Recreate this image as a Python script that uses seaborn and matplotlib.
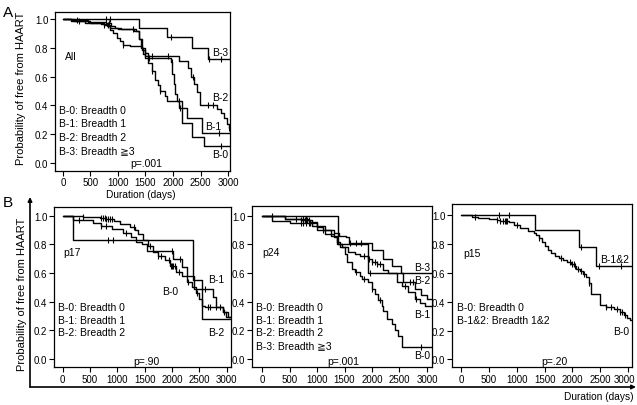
import numpy as np
import pandas as pd
import matplotlib
matplotlib.use("Agg")
import matplotlib.pyplot as plt
import matplotlib.transforms as mtransforms
import seaborn as sns
from matplotlib.patches import FancyArrowPatch

# ---------------- data ----------------
x_ticks = [0, 500, 1000, 1500, 2000, 2500, 3000]
y_ticks = [0.0, 0.2, 0.4, 0.6, 0.8, 1.0]
follow_up_end = 3120

# Panel A (All)
A_B0_t = [0, 150, 400, 700, 794, 855, 915, 976, 1036, 1097, 1218, 1430, 1491, 1552, 1612, 1673, 1733, 1764, 1855, 1885, 2170, 2350, 2560]
A_B0_s = [1.0, 0.985, 0.975, 0.965, 0.96, 0.926, 0.90, 0.868, 0.845, 0.82, 0.81, 0.787, 0.764, 0.694, 0.637, 0.579, 0.544, 0.498, 0.463, 0.428, 0.28, 0.18, 0.12]
A_B0_c = [300, 820, 1100, 1620, 1764, 2100, 2880]
A_B1_t = [0, 200, 500, 750, 800, 850, 1000, 1300, 1380, 1420, 1460, 1500, 1960, 1990, 2010, 2040, 2070, 2100, 2260, 2530]
A_B1_s = [1.0, 0.985, 0.975, 0.96, 0.95, 0.935, 0.93, 0.92, 0.86, 0.80, 0.76, 0.73, 0.70, 0.62, 0.55, 0.48, 0.43, 0.38, 0.31, 0.21]
A_B1_c = [750, 1280, 1560, 1980, 2130, 2840]
A_B2_t = [0, 150, 450, 780, 880, 950, 1050, 1330, 1390, 1440, 1490, 2110, 2280, 2330, 2380, 2430, 2490, 2800, 2880, 2930, 2980, 3010]
A_B2_s = [1.0, 0.99, 0.98, 0.97, 0.955, 0.94, 0.93, 0.92, 0.86, 0.80, 0.745, 0.71, 0.66, 0.60, 0.55, 0.49, 0.40, 0.375, 0.345, 0.31, 0.27, 0.245]
A_B2_c = [250, 830, 1620, 1900, 2370, 2640, 2720, 3010]
A_B3_t = [0, 1380, 1890, 2340, 2640]
A_B3_s = [1.0, 0.94, 0.875, 0.80, 0.722]
A_B3_c = [780, 850, 1960, 2650, 2870]

# Panel B, p17
P17_B0_t = [0, 380, 680, 800, 930, 1050, 1230, 1320, 1380, 1470, 1560, 1650, 1750, 1870, 1960, 2080, 2180, 2270, 2360, 2430, 2490, 2540, 2600, 2940, 3030]
P17_B0_s = [1.0, 0.99, 0.985, 0.975, 0.96, 0.94, 0.92, 0.90, 0.87, 0.83, 0.79, 0.75, 0.72, 0.69, 0.65, 0.61, 0.58, 0.54, 0.50, 0.46, 0.42, 0.37, 0.36, 0.33, 0.29]
P17_B0_c = [380, 700, 740, 780, 800, 830, 860, 900, 1300, 1600, 1750, 1800, 1950, 1980, 2000, 2020, 2050, 2130, 2300, 2450, 2650, 2700, 2800, 2880, 2950]
P17_B1_t = [0, 190, 560, 700, 900, 1100, 1250, 1350, 1450, 1550, 2010, 2180, 2280, 2400, 2750, 2800, 2940, 2980]
P17_B1_s = [1.0, 0.97, 0.95, 0.93, 0.91, 0.88, 0.85, 0.82, 0.80, 0.756, 0.70, 0.64, 0.58, 0.49, 0.43, 0.36, 0.33, 0.29]
P17_B1_c = [300, 700, 800, 1150, 2000, 2140, 2600]
P17_B2_t = [0, 180, 2378, 2541]
P17_B2_s = [1.0, 0.833, 0.553, 0.279]
P17_B2_c = [830, 920]

# Panel B, p24
P24_B0_t = [0, 420, 700, 900, 1000, 1100, 1250, 1358, 1420, 1509, 1540, 1630, 1691, 1782, 1812, 1933, 1994, 2054, 2115, 2176, 2206, 2267, 2358, 2418, 2480, 2540]
P24_B0_s = [1.0, 0.98, 0.97, 0.95, 0.92, 0.90, 0.86, 0.82, 0.78, 0.73, 0.68, 0.63, 0.604, 0.58, 0.559, 0.535, 0.49, 0.454, 0.41, 0.37, 0.337, 0.279, 0.245, 0.20, 0.163, 0.085]
P24_B0_c = [180, 620, 700, 750, 780, 800, 820, 850, 900, 1100, 1700, 1850, 2000, 2150, 2900]
P24_B1_t = [0, 180, 500, 900, 1000, 1150, 1300, 1360, 1450, 1570, 1690, 1780, 1933, 2000, 2100, 2206, 2300, 2449, 2550, 2661, 2782, 2870, 2964]
P24_B1_s = [1.0, 0.966, 0.95, 0.93, 0.90, 0.87, 0.85, 0.80, 0.78, 0.75, 0.73, 0.72, 0.70, 0.68, 0.66, 0.62, 0.60, 0.54, 0.51, 0.47, 0.42, 0.39, 0.37]
P24_B1_c = [700, 750, 800, 850, 880, 1850, 1950, 2000, 2050, 2100, 2150, 2600, 2800]
P24_B2_t = [0, 420, 850, 1000, 1150, 1300, 1400, 1520, 1580, 2000, 2200, 2360, 2530, 2560, 2780, 2900, 3000]
P24_B2_s = [1.0, 0.975, 0.955, 0.93, 0.90, 0.88, 0.86, 0.85, 0.81, 0.76, 0.70, 0.65, 0.60, 0.54, 0.49, 0.45, 0.42]
P24_B2_c = [750, 800, 1600, 1700, 1800, 2700, 2750]
P24_B3_t = [0, 1376, 1933]
P24_B3_s = [1.0, 0.8, 0.6]
P24_B3_c = [1960]

# Panel B, p15
P15_B0_t = [0, 200, 300, 500, 650, 700, 850, 950, 1050, 1200, 1300, 1350, 1400, 1450, 1500, 1560, 1620, 1680, 1750, 1830, 1900, 1980, 2030, 2070, 2130, 2190, 2240, 2290, 2335, 2495, 2600, 2750, 2850, 2930, 2990, 3030]
P15_B0_s = [1.0, 0.99, 0.98, 0.975, 0.97, 0.96, 0.95, 0.935, 0.91, 0.89, 0.88, 0.86, 0.84, 0.815, 0.79, 0.76, 0.735, 0.72, 0.70, 0.69, 0.675, 0.66, 0.645, 0.63, 0.61, 0.59, 0.57, 0.53, 0.455, 0.38, 0.365, 0.35, 0.33, 0.31, 0.29, 0.27]
P15_B0_c = [250, 650, 700, 750, 780, 800, 820, 1000, 1400, 1800, 1950, 2000, 2020, 2050, 2100, 2150, 2200, 2300, 2600, 2700, 2800, 2850, 2900, 2950]
P15_B12_t = [0, 1332, 2113, 2431]
P15_B12_s = [1.0, 0.896, 0.78, 0.648]
P15_B12_c = [680, 850, 2150, 2480, 2880]

legend_A = ["B-0: Breadth 0", "B-1: Breadth 1", "B-2: Breadth 2", "B-3: Breadth \u22673"]
legend_p17 = ["B-0: Breadth 0", "B-1: Breadth 1", "B-2: Breadth 2"]
legend_p24 = legend_A
legend_p15 = ["B-0: Breadth 0", "B-1&2: Breadth 1&2"]

# ---------------- style ----------------
sns.set_style("ticks")
plt.rcParams["font.family"] = ["Liberation Sans", "DejaVu Sans"]
plt.rcParams["font.size"] = 7.5
W, H = 637, 406
fig = plt.figure(figsize=(W / 100, H / 100), dpi=100)
FS = 7.5
TFS = 7.0


def add_ax(l, t, r, b, xlim, ylim):
    ax = fig.add_axes([l / W, 1 - b / H, (r - l) / W, (b - t) / H])
    ax.set_xlim(*xlim)
    ax.set_ylim(*ylim)
    for sp in ax.spines.values():
        sp.set_visible(True)
        sp.set_linewidth(0.9)
        sp.set_color("black")
    ax.set_xticks(x_ticks)
    ax.set_xticklabels([str(v) for v in x_ticks])
    ax.set_yticks(y_ticks)
    ax.set_yticklabels([f"{v:.1f}" for v in y_ticks])
    ax.tick_params(direction="out", length=3.5, width=0.8, pad=1.2,
                   labelsize=TFS, colors="black", top=False, right=False)
    ax.set_facecolor("white")
    return ax


def curve(ax, t, s, c):
    tt = list(t) + [follow_up_end]
    ss = list(s) + [s[-1]]
    df = pd.DataFrame({"t": tt, "s": ss})
    sns.lineplot(data=df, x="t", y="s", ax=ax, drawstyle="steps-post",
                 estimator=None, sort=False, color="black", lw=1.0, legend=False)
    if c:
        cc = np.asarray(c, dtype=float)
        idx = np.searchsorted(np.asarray(t), cc, side="right") - 1
        cs = np.asarray(s)[idx]
        sns.scatterplot(x=cc, y=cs, ax=ax, marker="|", s=14, color="black",
                        linewidth=0.8, legend=False)
    ax.set_xlabel("")
    ax.set_ylabel("")


def ftext(px, py, s, ha="left", va="center", size=FS, **kw):
    fig.text(px / W, 1 - py / H, s, ha=ha, va=va, fontsize=size, color="black", **kw)


# ---- Panel A ----
axA = add_ax(55, 12.7, 230, 171.5, (-145, 3036), (-0.052, 1.051))
for t, s, c in [(A_B0_t, A_B0_s, A_B0_c), (A_B1_t, A_B1_s, A_B1_c),
                (A_B2_t, A_B2_s, A_B2_c), (A_B3_t, A_B3_s, A_B3_c)]:
    curve(axA, t, s, c)

# ---- Panel B ----
axB1 = add_ax(54, 208, 231, 368, (-159, 3079), (-0.056, 1.061))
for t, s, c in [(P17_B0_t, P17_B0_s, P17_B0_c), (P17_B1_t, P17_B1_s, P17_B1_c),
                (P17_B2_t, P17_B2_s, P17_B2_c)]:
    curve(axB1, t, s, c)

axB2 = add_ax(252, 207, 432, 368, (-182, 3091), (-0.056, 1.068))
for t, s, c in [(P24_B0_t, P24_B0_s, P24_B0_c), (P24_B1_t, P24_B1_s, P24_B1_c),
                (P24_B2_t, P24_B2_s, P24_B2_c), (P24_B3_t, P24_B3_s, P24_B3_c)]:
    curve(axB2, t, s, c)

axB3 = add_ax(452, 205, 632, 368, (-167, 3072), (-0.053, 1.078))
for t, s, c in [(P15_B0_t, P15_B0_s, P15_B0_c), (P15_B12_t, P15_B12_s, P15_B12_c)]:
    curve(axB3, t, s, c)

# keep the last tick label of the right panel inside the figure
last_lbl = axB3.get_xticklabels()[-1]
last_lbl.set_transform(last_lbl.get_transform() +
                       mtransforms.ScaledTranslation(-3.5 / 100, 0, fig.dpi_scale_trans))

# ---- texts: panel A ----
ftext(3, 13, "A", size=11)
ftext(21, 88, "Probability of free from HAART", ha="center", rotation=90, size=8)
ftext(141, 195, "Duration (days)", ha="center", size=7.3)
ftext(65, 57, "All")
for i, s in enumerate(legend_A):
    ftext(59, 111 + i * 13.3, s)
ftext(146, 164, "p=.001", ha="center")
ftext(212, 53, "B-3")
ftext(212, 98, "B-2")
ftext(205, 127, "B-1")
ftext(212, 155, "B-0")

# ---- texts: panel B ----
ftext(3, 203, "B", size=11)
ftext(22, 294, "Probability of free from HAART", ha="center", rotation=90, size=8)
ftext(633, 397, "Duration (days)", ha="right", size=7.3)

ftext(63, 253, "p17")
for i, s in enumerate(legend_p17):
    ftext(58, 308 + i * 12.7, s)
ftext(146, 362, "p=.90", ha="center")
ftext(208, 280, "B-1")
ftext(162, 292, "B-0")
ftext(208, 333, "B-2")

ftext(262, 253, "p24")
for i, s in enumerate(legend_p24):
    ftext(256.5, 308 + i * 12.7, s)
ftext(343, 362, "p=.001", ha="center")
ftext(414, 268, "B-3")
ftext(414, 281, "B-2")
ftext(414, 315, "B-1")
ftext(414, 356, "B-0")

ftext(463, 254, "p15")
for i, s in enumerate(legend_p15):
    ftext(457, 308 + i * 12.7, s)
ftext(554, 362, "p=.20", ha="center")
ftext(600, 260, "B-1&2")
ftext(613, 332, "B-0")

# ---- outer frame of panel B ----
def fp(px, py):
    return (px / W, 1 - py / H)

for a, b in [((30, 388), (30, 198)), ((30, 388), (636, 388))]:
    fig.add_artist(FancyArrowPatch(fp(*a), fp(*b), transform=fig.transFigure,
                                   arrowstyle="-|>", mutation_scale=6,
                                   lw=1.2, color="black", shrinkA=0, shrinkB=0))

fig.savefig("out.png", dpi=100, facecolor="white")
